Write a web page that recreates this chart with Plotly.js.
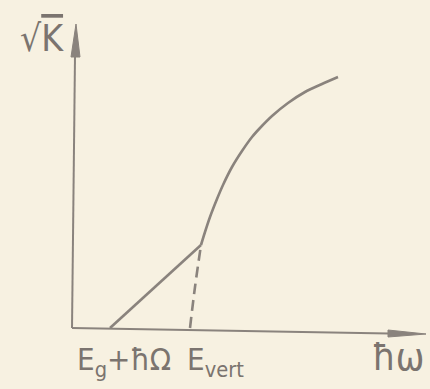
<!DOCTYPE html>
<html>
<head>
<meta charset="utf-8">
<script src="https://cdn.plot.ly/plotly-3.0.1.min.js"></script>
<style>html,body{margin:0;padding:0;background:#f7f1e1;}</style>
</head>
<body>
<div id="chart" style="width:430px;height:389px;"></div>
<script>
// Photon energy (arbitrary units) and sqrt(K) (arbitrary units)
const tickValues = [0.37, 1.17];
const tickLabels = ['E<sub>g</sub>+ħΩ', 'E<sub>vert</sub>'];

// indirect (phonon-assisted) absorption: straight line
const indirectX = [0.37, 1.28];
const indirectY = [0.00, 0.83];

// direct edge continuation below the threshold (dashed)
const dashedX = [1.17, 1.22, 1.28];
const dashedY = [0.00, 0.41, 0.83];

// direct (vertical) absorption
const directX = [1.28, 1.32, 1.37, 1.44, 1.50, 1.59, 1.69, 1.79, 1.87, 1.99, 2.15, 2.32, 2.49, 2.65];
const directY = [0.83, 0.96, 1.11, 1.29, 1.43, 1.61, 1.77, 1.91, 2.00, 2.12, 2.25, 2.36, 2.44, 2.51];

const ink = '#8a837d';
const textInk = '#7b746f';
const font = 'DejaVu Sans Condensed, Liberation Sans, Arial, sans-serif';

const traces = [
  {x: indirectX, y: indirectY, mode: 'lines', line: {color: ink, width: 2.6}, hoverinfo: 'skip'},
  {x: dashedX, y: dashedY, mode: 'lines', line: {color: ink, width: 2.6, dash: '11px,6px', shape: 'spline'}, hoverinfo: 'skip'},
  {x: directX, y: directY, mode: 'lines', line: {color: ink, width: 2.6, shape: 'spline', smoothing: 0.8}, hoverinfo: 'skip'}
];

const annotations = tickValues.map((v, i) => ({
  x: v, y: -0.33, xref: 'x', yref: 'y', text: tickLabels[i], showarrow: false,
  xanchor: 'left', yanchor: 'middle', xshift: i === 0 ? -35 : -5,
  font: {family: font, size: 31, color: textInk}
}));
annotations.push({
  x: -0.31, y: 2.90, xref: 'x', yref: 'y', text: '√<span style="text-decoration:overline">K</span>', showarrow: false,
  xanchor: 'center', yanchor: 'middle', font: {family: font, size: 37, color: textInk}
});
annotations.push({
  x: 3.25, y: -0.29, xref: 'x', yref: 'y', text: 'ħω', showarrow: false,
  xanchor: 'center', yanchor: 'middle', font: {family: font, size: 38, color: textInk}
});

const shapes = [
  {type: 'line', xref: 'x', yref: 'y', x0: -0.01, y0: 0, x1: 0.02, y1: 2.72, line: {color: ink, width: 2}},
  {type: 'path', xref: 'x', yref: 'y', path: 'M 0.03 3.04 L -0.02 2.71 L 0.07 2.71 Z', fillcolor: ink, line: {color: ink, width: 1}},
  {type: 'line', xref: 'x', yref: 'y', x0: -0.01, y0: 0, x1: 3.16, y1: -0.055, line: {color: ink, width: 2}},
  {type: 'path', xref: 'x', yref: 'y', path: 'M 3.53 -0.06 L 3.15 -0.02 L 3.15 -0.09 Z', fillcolor: ink, line: {color: ink, width: 1}}
];

const hidden = {showgrid: false, zeroline: false, showticklabels: false, ticks: '', showline: false, fixedrange: true};

const layout = {
  width: 430, height: 389,
  margin: {l: 0, r: 0, t: 0, b: 0, pad: 0},
  paper_bgcolor: '#f7f1e1', plot_bgcolor: '#f7f1e1',
  showlegend: false,
  xaxis: Object.assign({range: [-0.73, 3.57]}, hidden),
  yaxis: Object.assign({range: [-0.61, 3.28]}, hidden),
  annotations: annotations,
  shapes: shapes
};

Plotly.newPlot('chart', traces, layout, {displayModeBar: false, staticPlot: true});
</script>
</body>
</html>
